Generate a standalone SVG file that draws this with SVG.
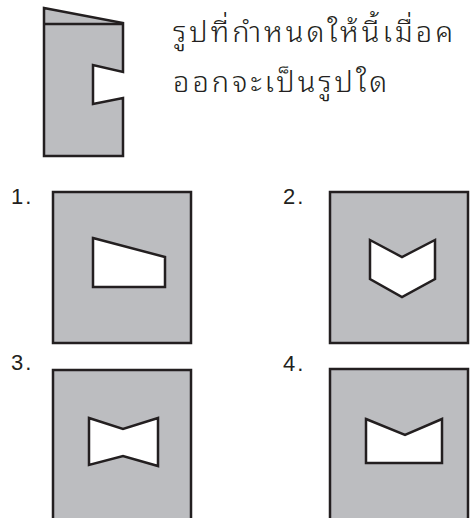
<svg xmlns="http://www.w3.org/2000/svg" width="472" height="518" viewBox="0 0 472 518">
<style>
.sh{fill:#bcbdc0;stroke:#231f20;stroke-width:2.5;stroke-linejoin:miter}
.hole{fill:#ffffff;stroke:#231f20;stroke-width:2.5;stroke-linejoin:miter}
.ln{fill:none;stroke:#231f20;stroke-width:2.5}
.th{font-family:"Noto Sans Thai Looped","Noto Sans Thai","Noto Sans","DejaVu Sans",sans-serif;font-size:29px;font-weight:300;letter-spacing:3px;fill:#231f20}
.lb{font-family:"Liberation Sans","Noto Sans",sans-serif;font-size:22px;letter-spacing:2px;fill:#231f20}
</style>
<rect width="472" height="518" fill="#ffffff"/>
<g id="folded">
<path class="sh" d="M44,8 L123,23 L123,72 L93,65 L93,104 L123,98 L123,156 L44,156 Z"/>
<path class="ln" d="M44,24 L123,24"/>
</g>
<g id="question">
<text class="th" x="173" y="42">รูปที่กำหนดให้นี้เมื่อค</text>
<text class="th" x="173" y="92">ออกจะเป็นรูปใด</text>
</g>
<g id="opt1">
<text class="lb" x="11" y="204">1.</text>
<rect class="sh" x="53" y="192" width="138" height="151"/>
<path class="hole" d="M93,238 L165,257 L165,287 L93,287 Z"/>
</g>
<g id="opt2">
<text class="lb" x="283" y="204">2.</text>
<rect class="sh" x="330" y="192" width="138" height="151"/>
<path class="hole" d="M370,240 L402,257 L435,240 L435,279 L402,297 L370,279 Z"/>
</g>
<g id="opt3">
<text class="lb" x="11" y="370">3.</text>
<rect class="sh" x="53" y="370" width="138" height="160"/>
<path class="hole" d="M89,418 L123,429 L158,418 L158,466 L123,456 L89,465 Z"/>
</g>
<g id="opt4">
<text class="lb" x="283" y="371">4.</text>
<rect class="sh" x="330" y="369" width="138" height="160"/>
<path class="hole" d="M366,419 L405,435 L442,419 L442,463 L366,463 Z"/>
</g>
<g id="connectors"></g>
</svg>
